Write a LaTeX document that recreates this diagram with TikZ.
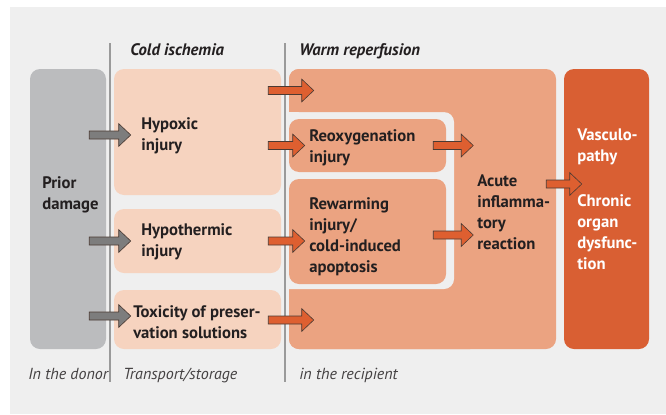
\documentclass[tikz,border=0pt]{standalone}
\usepackage{fontspec}
\setmainfont{PT Sans}
\usepackage{tikz}
\usetikzlibrary{calc,fit}
\definecolor{Canvas}{HTML}{EFEFEF}
\definecolor{PriorGray}{HTML}{BBBCBE}
\definecolor{ColdPeach}{HTML}{F6D3BF}
\definecolor{WarmSalmon}{HTML}{EBA381}
\definecolor{ChronicRed}{HTML}{D95F33}
\definecolor{ArrowOrange}{HTML}{DE5F30}
\definecolor{ArrowGray}{HTML}{7D7D7D}
\definecolor{ArrowEdge}{HTML}{4A3A33}
\definecolor{RuleGray}{HTML}{9A9A9A}
\definecolor{Ink}{HTML}{231F20}

% fat block arrow, horizontal, at the height of the end point
\newcommand{\blockarrow}[3]{%
  \filldraw[draw=ArrowEdge,fill=#1,line width=0.45pt]
    let \p1=(#2),\p2=(#3) in
    (\x1,\y2+3pt) -- (\x2-9pt,\y2+3pt) -- (\x2-9pt,\y2+8.5pt) -- (\x2,\y2)
    -- (\x2-9pt,\y2-8.5pt) -- (\x2-9pt,\y2-3pt) -- (\x1,\y2-3pt) -- cycle;}

\tikzset{
  box/.style={rounded corners=7.5pt,inner sep=0pt,draw=none},
  txt/.style={anchor=west,align=left,inner sep=0pt,text=Ink,
    font=\fontsize{12.5}{15.75}\selectfont\bfseries},
  head/.style={anchor=base west,inner sep=0pt,text=Ink,
    font=\fontsize{12.5}{15}\selectfont\bfseries\itshape},
  foot/.style={anchor=base west,inner sep=0pt,text=Ink!85,
    font=\fontsize{12}{14}\selectfont\itshape},
}

\begin{document}
\begin{tikzpicture}[x=0.75pt,y=-0.75pt]
  \useasboundingbox (0,0) rectangle (666,414);
  \fill[white] (0,0) rectangle (666,414);
  \fill[Canvas] (10,7) rectangle (666,414);

  % boxes
  \node[box,fill=PriorGray,fit={(30,69) (106,349)}] (prior) {};
  \node[box,fill=ColdPeach,fit={(114,69) (281,195)}] (hyp) {};
  \node[box,fill=ColdPeach,fit={(114,209) (281,273)}] (therm) {};
  \node[box,fill=ColdPeach,fit={(114,290) (281,349)}] (tox) {};
  \node[box,fill=WarmSalmon,fit={(289,69) (556,349)}] (warm) {};
  \begin{scope}
    \clip (287,0) rectangle (666,414);
    \fill[Canvas,rounded corners=7.5pt] (250,112) rectangle (454,289);
  \end{scope}
  \node[box,fill=WarmSalmon,fit={(289,69) (480,112)}] (topstrip) {};
  \node[box,fill=WarmSalmon,fit={(289,291) (480,349)}] (botstrip) {};
  \node[box,fill=WarmSalmon,fit={(289,119) (446,172)}] (reox) {};
  \node[box,fill=WarmSalmon,fit={(289,179) (446,284)}] (rewarm) {};
  \node[box,fill=ChronicRed,fit={(564,69) (649,349)}] (chronic) {};

  % phase rules
  \draw[RuleGray,line width=0.8pt] (110,43) -- (110,382);
  \draw[RuleGray,line width=0.8pt] (285,43) -- (285,382);

  % texts
  \node[head] (cold) at (130,55) {Cold ischemia};
  \node[head] (reperf) at (299,55) {Warm reperfusion};
  \node[txt] (priortxt) at (42,194.5) {Prior\\damage};
  \node[txt] (hyptxt) at (141,136) {Hypoxic\\injury};
  \node[txt] (thermtxt) at (141,241.5) {Hypothermic\\injury};
  \node[txt] (toxtxt) at (133,322) {Toxicity of preser-\\vation solutions};
  \node[txt] (reoxtxt) at (309,148) {Reoxygenation\\injury};
  \node[txt] (rewarmtxt) at (309,237) {Rewarming\\injury/\\cold-induced\\apoptosis};
  \node[txt] (acute) at (477,212) {Acute\\inflamma-\\tory\\reaction};
  \node[txt,text=white] (vasc) at (577,146.5) {Vasculo-\\pathy};
  \node[txt,text=white] (chrontxt) at (577,232) {Chronic\\organ\\dysfunc-\\tion};
  \node[foot] (donor) at (28,379) {In the donor};
  \node[foot] (transport) at (123,379) {Transport/storage};
  \node[foot] (recipient) at (299,379) {in the recipient};

  % arrows
  \blockarrow{ArrowGray}{$(prior.east)+(-17,0)$}{$(hyp.west)+(17,3)$}
  \blockarrow{ArrowGray}{$(prior.east)+(-17,0)$}{$(therm.west)+(17,0)$}
  \blockarrow{ArrowGray}{$(prior.east)+(-17,0)$}{$(tox.west)+(17,-3.5)$}
  \blockarrow{ArrowOrange}{$(hyp.east)+(-13,0)$}{$(topstrip.west)+(25,0)$}
  \blockarrow{ArrowOrange}{$(hyp.east)+(-13,0)$}{$(reox.west)+(16,0)$}
  \blockarrow{ArrowOrange}{$(therm.east)+(-13,0)$}{$(rewarm.west)+(16,9.5)$}
  \blockarrow{ArrowOrange}{$(tox.east)+(-13,0)$}{$(botstrip.west)+(25,0)$}
  \blockarrow{ArrowOrange}{$(reox.east)+(-13,0)$}{$(reox.east)+(27,0)$}
  \blockarrow{ArrowOrange}{$(rewarm.east)+(-13,0)$}{$(rewarm.east)+(27,3.5)$}
  \blockarrow{ArrowOrange}{$(warm.east)+(-10,0)$}{$(chronic.west)+(18,-25)$}
\end{tikzpicture}
\end{document}
